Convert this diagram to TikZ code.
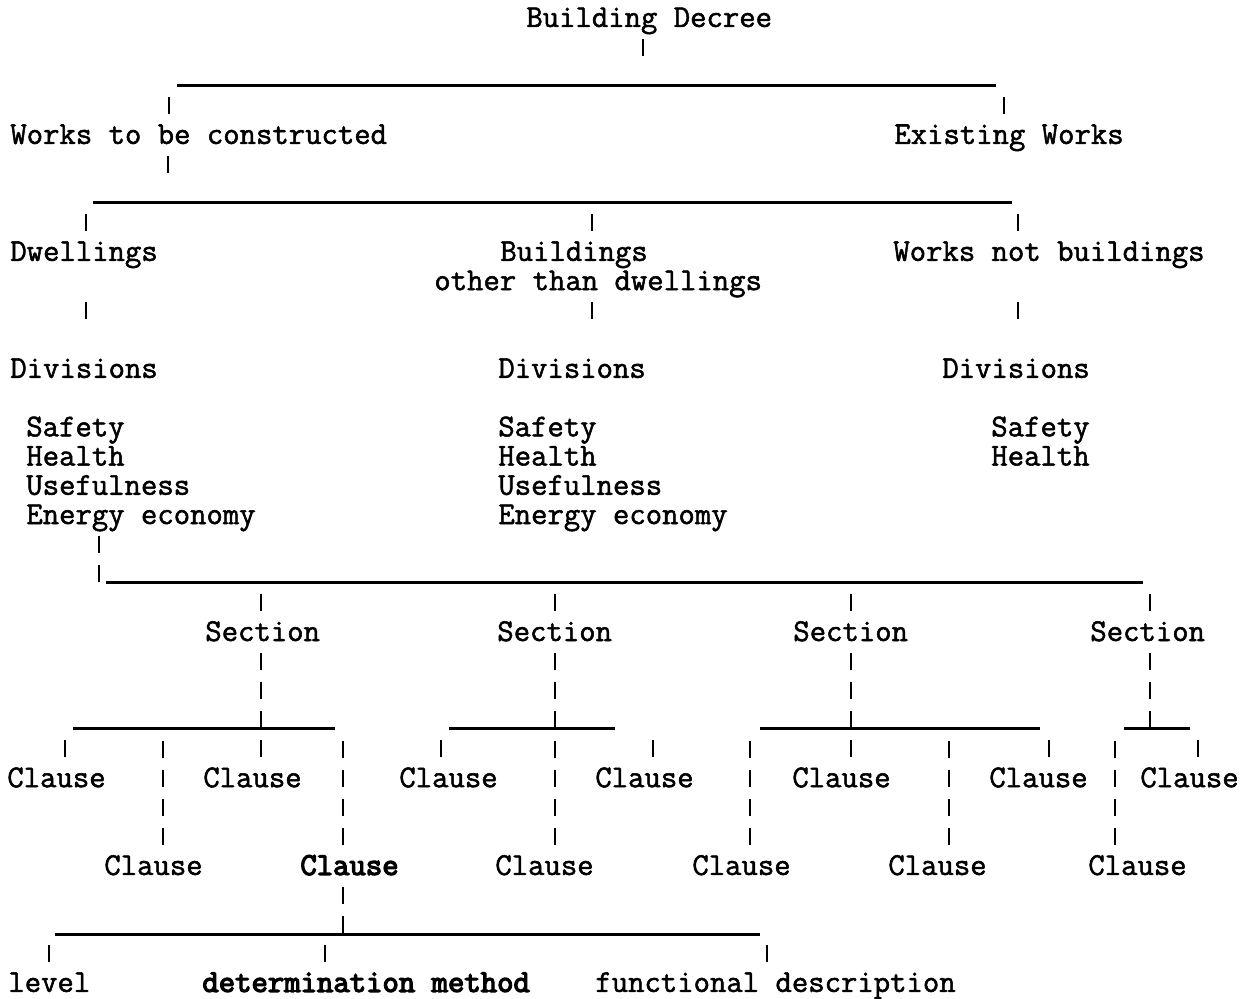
\documentclass[tikz,border=0pt]{standalone}
\usepackage{fontspec}
\newfontfamily\typew[FakeBold=1.6]{Latin Modern Mono}
\newfontfamily\typewb[FakeBold=4]{Latin Modern Mono}

\begin{document}
\begin{tikzpicture}[x=0.02cm,y=-0.02cm,
  txt/.style={anchor=west,inner sep=0pt,text height=16.86pt,text depth=6.66pt,font=\typew\fontsize{18.1pt}{20pt}\selectfont},
  boldtxt/.style={txt,font=\typewb\fontsize{18.1pt}{20pt}\selectfont},
  bars/.style={line width=1.3pt,dash pattern=on 9.64pt off 6.94pt},
  hline/.style={line width=1.6pt},
  stub/.style={bars,shorten >=16.86pt},
  dropstart/.style={shorten <=16.58pt},
  dropend/.style={shorten >=16.58pt}
]
  \useasboundingbox (0,0) rectangle (1250,998);

  % texts
  \node[txt] (dec)  at (526,18.00)  {Building Decree};
  \node[txt] (new)  at (10,134.96)  {Works to be constructed};
  \node[txt] (old)  at (894,134.96) {Existing Works};
  \node[txt] (dwl)  at (10,251.92)  {Dwellings};
  \node[txt] (bld)  at (500,251.92) {Buildings};
  \node[txt] (bldb) at (434,281.16) {other than dwellings};
  \node[txt] (wnb)  at (893,251.92) {Works not buildings};
  \node[txt] (divA) at (10,368.88)  {Divisions};
  \node[txt] (divB) at (498,368.88) {Divisions};
  \node[txt] (divC) at (942,368.88) {Divisions};
  \node[txt] (safA) at (26,427.36)  {Safety};
  \node[txt] (heaA) at (26,456.60)  {Health};
  \node[txt] (useA) at (26,485.84)  {Usefulness};
  \node[txt] (eneA) at (26,515.08)  {Energy economy};
  \node[txt] (safB) at (498,427.36) {Safety};
  \node[txt] (heaB) at (498,456.60) {Health};
  \node[txt] (useB) at (498,485.84) {Usefulness};
  \node[txt] (eneB) at (498,515.08) {Energy economy};
  \node[txt] (safC) at (991,427.36) {Safety};
  \node[txt] (heaC) at (991,456.60) {Health};
  \node[txt] (secA) at (205,632.04) {Section};
  \node[txt] (secB) at (497,632.04) {Section};
  \node[txt] (secC) at (793,632.04) {Section};
  \node[txt] (secD) at (1090,632.04) {Section};
  \node[txt] (claA1) at (7,778.24)   {Clause};
  \node[txt] (claA2) at (203,778.24) {Clause};
  \node[txt] (claB1) at (399,778.24) {Clause};
  \node[txt] (claB2) at (595,778.24) {Clause};
  \node[txt] (claC1) at (792,778.24) {Clause};
  \node[txt] (claC2) at (989,778.24) {Clause};
  \node[txt] (claD1) at (1140,778.24) {Clause};
  \node[txt] (claA3) at (104,865.96) {Clause};
  \node[boldtxt] (claA4) at (300,865.96) {Clause};
  \node[txt] (claB3) at (495,865.96) {Clause};
  \node[txt] (claC3) at (692,865.96) {Clause};
  \node[txt] (claC4) at (888,865.96) {Clause};
  \node[txt] (claD2) at (1088,865.96) {Clause};
  \node[txt] (lev) at (8,982.92) {level};
  \node[boldtxt] (det) at (202,982.92) {determination method};
  \node[txt] (fun) at (595,982.92) {functional description};

  % Building Decree
  \coordinate (l1a) at (177,85.48);  \coordinate (l1b) at (996,85.48);
  \coordinate (jdec) at (643,85.48); \coordinate (jnew) at (169,85.48); \coordinate (jold) at (1004,85.48);
  \draw[hline] (l1a) -- (l1b);
  \draw[stub] (dec.south -| jdec) -- (jdec);
  \draw[bars] (new.north -| jnew) -- (jnew);
  \draw[bars] (old.north -| jold) -- (jold);

  % Works to be constructed
  \coordinate (l2a) at (93,202.44);   \coordinate (l2b) at (1012,202.44);
  \coordinate (jwork) at (168,202.44); \coordinate (jdwl) at (86,202.44);
  \coordinate (jbld) at (592,202.44);  \coordinate (jwnb) at (1018,202.44);
  \draw[hline] (l2a) -- (l2b);
  \draw[stub] (new.south -| jwork) -- (jwork);
  \draw[bars] (dwl.north -| jdwl) -- (jdwl);
  \draw[bars] (bld.north -| jbld) -- (jbld);
  \draw[bars] (wnb.north -| jwnb) -- (jwnb);
  \draw[bars,dropstart,dropend] (dwl.south -| jdwl) -- (divA.north -| jdwl);
  \draw[bars,dropend] (bldb.south -| jbld) -- (divB.north -| jbld);
  \draw[bars,dropstart,dropend] (wnb.south -| jwnb) -- (divC.north -| jwnb);

  % Sections
  \coordinate (l3a) at (106,582.56); \coordinate (l3b) at (1143,582.56);
  \coordinate (jene) at (99,582.56);
  \draw[hline] (l3a) -- (l3b);
  \draw[bars] (eneA.south -| jene) -- (jene);
  \foreach \s/\x in {A/261,B/555,C/851,D/1150}{
    \coordinate (js\s) at (\x,582.56);
    \draw[bars] (sec\s.north -| js\s) -- (js\s);
  }

  % Clauses
  \foreach \n/\x in {A1/65,A2/163,A3/261,A4/343,B1/441,B2/555,B3/653,
                     C1/750,C2/851,C3/949,C4/1049,D0/1150,D1/1115,D2/1198}
    \coordinate (k\n) at (\x,728.76);
  \foreach \a/\b in {73/335,449/615,760/1040,1124/1190}
    \draw[hline] (\a,728.76) coordinate (m\a) -- (\b,728.76) coordinate (m\b);
  \draw[bars] (secA.south -| kA3) -- (kA3);
  \draw[bars] (secB.south -| kB2) -- (kB2);
  \draw[bars] (secC.south -| kC2) -- (kC2);
  \draw[bars] (secD.south -| kD0) -- (kD0);
  \foreach \c/\k in {claA1/A1,claA3/A2,claA2/A3,claA4/A4,claB1/B1,claB3/B2,claB2/B3,
                     claC3/C1,claC1/C2,claC4/C3,claC2/C4,claD2/D1,claD1/D2}
    \draw[bars] (\c.north -| k\k) -- (k\k);

  % bold Clause
  \coordinate (n1) at (55,934.44); \coordinate (n2) at (760,934.44);
  \coordinate (jbold) at (343,934.44);
  \coordinate (jlev) at (49,934.44); \coordinate (jdet) at (325,934.44); \coordinate (jfun) at (767,934.44);
  \draw[hline] (n1) -- (n2);
  \draw[bars] (claA4.south -| jbold) -- (jbold);
  \draw[bars] (lev.north -| jlev) -- (jlev);
  \draw[bars] (det.north -| jdet) -- (jdet);
  \draw[bars] (fun.north -| jfun) -- (jfun);
\end{tikzpicture}
\end{document}
